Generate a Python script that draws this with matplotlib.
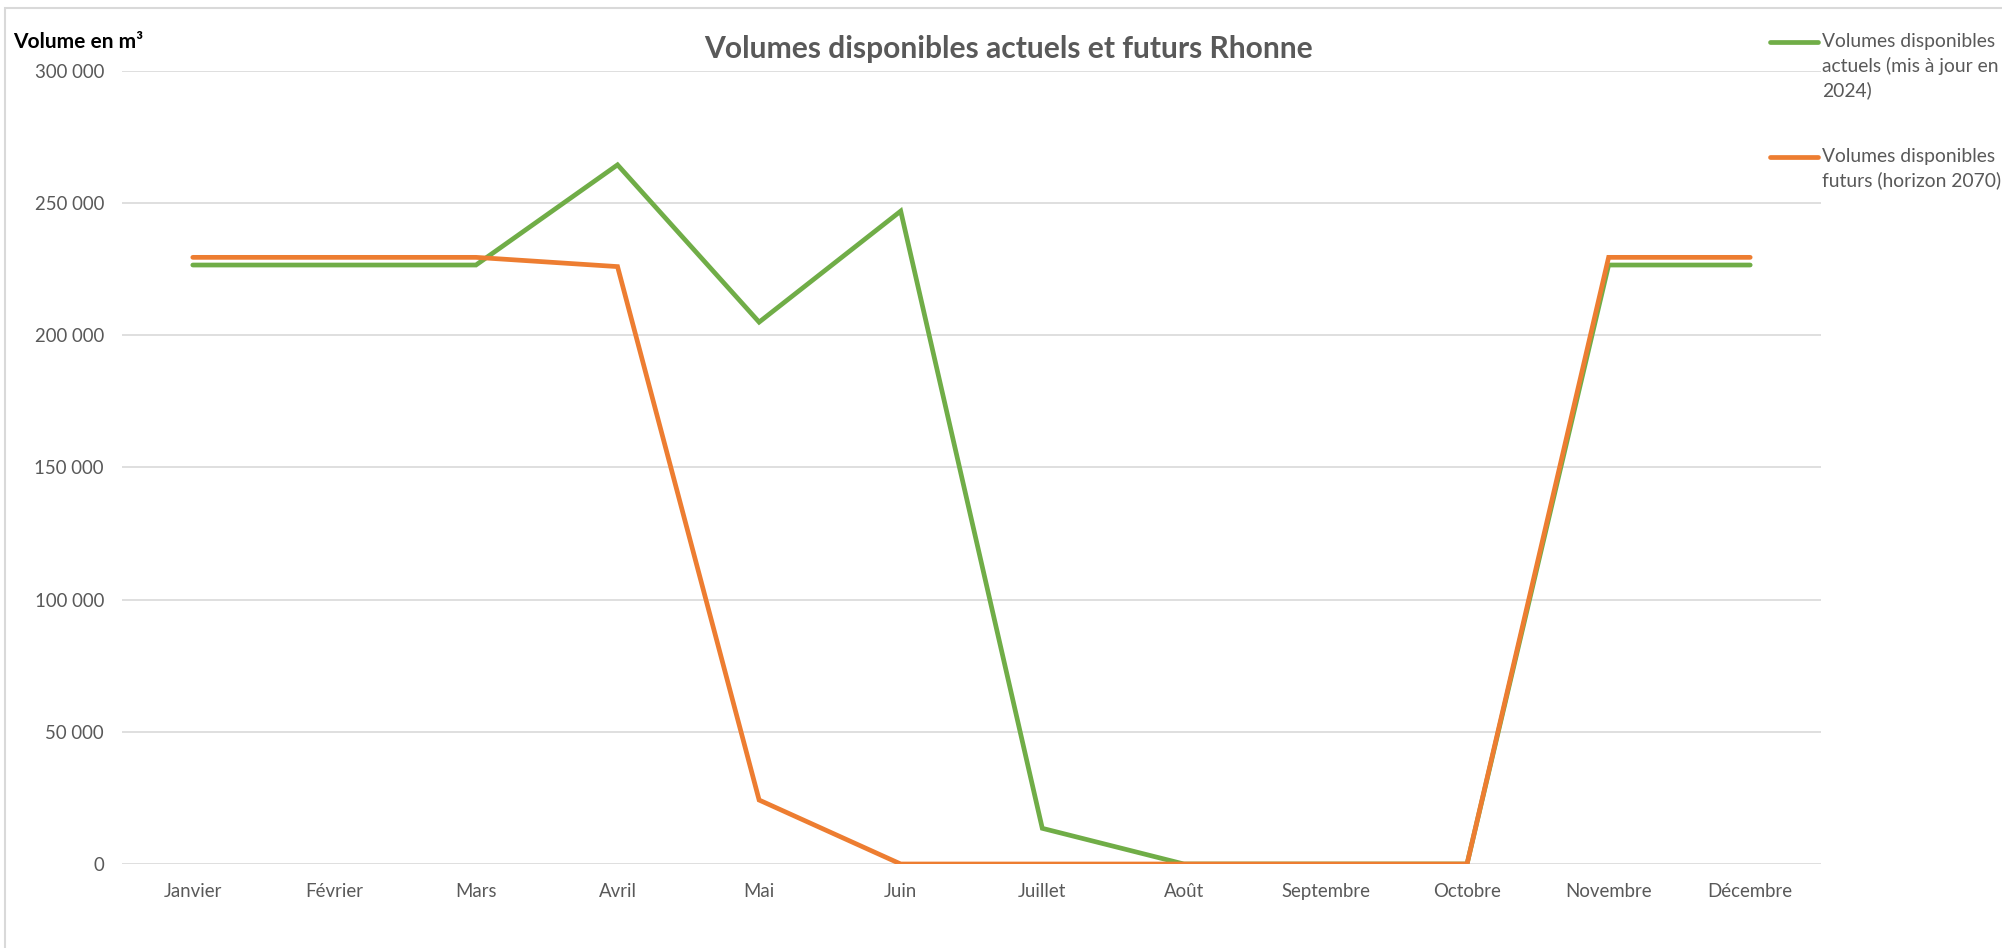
import matplotlib
matplotlib.use("Agg")
import matplotlib.pyplot as plt
from matplotlib.lines import Line2D
from matplotlib.patches import Rectangle
from matplotlib.ticker import FuncFormatter

plt.rcParams["font.family"] = ["Lato", "DejaVu Sans"]

mois = ["Janvier", "Février", "Mars", "Avril", "Mai", "Juin", "Juillet",
        "Août", "Septembre", "Octobre", "Novembre", "Décembre"]
actuels = [226600, 226600, 226600, 264500, 205000, 247000, 13500,
           0, 0, 0, 226600, 226600]
futurs = [229500, 229500, 229500, 226000, 24200, 0, 0,
          0, 0, 0, 229500, 229500]
y_ticks = [0, 50000, 100000, 150000, 200000, 250000, 300000]

label_actuels = "Volumes disponibles\nactuels (mis à jour en\n2024)"
label_futurs = "Volumes disponibles\nfuturs (horizon 2070)"

VERT = "#70AD47"
ORANGE = "#ED7D31"
GRIS_TEXTE = "#595959"
GRIS_GRILLE = "#D9D9D9"

W, H = 2002, 948
fig = plt.figure(figsize=(W / 100, H / 100), dpi=100)

# cadre du graphique (bord haut et gauche)
fig.patches.append(Rectangle((5 / W, -0.1), 1.2, (H - 8) / H + 0.1,
                             transform=fig.transFigure, fill=False,
                             edgecolor=GRIS_GRILLE, linewidth=1.5))

ax = fig.add_axes([122 / W, 84 / H, 1699 / W, 793 / H])
x = range(len(mois))
ax.plot(x, actuels, color=VERT, lw=3.4, solid_capstyle="round",
        solid_joinstyle="miter", zorder=3)
ax.plot(x, futurs, color=ORANGE, lw=3.4, solid_capstyle="round",
        solid_joinstyle="miter", zorder=4)

ax.set_xlim(-0.5, len(mois) - 0.5)
ax.set_ylim(0, 300000)
ax.set_yticks(y_ticks)
ax.yaxis.set_major_formatter(FuncFormatter(lambda v, p: f"{int(v):,}".replace(",", " ")))
ax.set_xticks(list(x))
ax.set_xticklabels(mois)
ax.grid(axis="y", color=GRIS_GRILLE, lw=1.2)
ax.set_axisbelow(True)
for s in ax.spines.values():
    s.set_visible(False)
ax.tick_params(length=0, labelsize=13.4, labelcolor=GRIS_TEXTE)
ax.tick_params(axis="y", pad=13)
ax.tick_params(axis="x", pad=14)

fig.text(1009 / W, 1 - 49 / H, "Volumes disponibles actuels et futurs Rhonne",
         ha="center", va="center", fontsize=21.6, fontweight="bold",
         color=GRIS_TEXTE)
fig.text(13 / W, 1 - 42 / H, "Volume en m³", ha="left", va="center",
         fontsize=15, fontweight="bold", color="black")

# légende
for y_px, couleur, texte in [(42, VERT, label_actuels), (157, ORANGE, label_futurs)]:
    yf = 1 - y_px / H
    fig.add_artist(Line2D([1770 / W, 1818 / W], [yf, yf], color=couleur,
                          lw=3.4, solid_capstyle="round",
                          transform=fig.transFigure))
    fig.text(1822 / W, yf + 9 / H, texte, ha="left", va="top",
             fontsize=13.9, color=GRIS_TEXTE, linespacing=1.45)

fig.savefig("out.png", dpi=100)
